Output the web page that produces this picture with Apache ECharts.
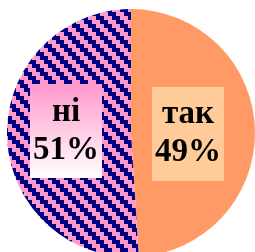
<!DOCTYPE html>
<html>
<head>
<meta charset="utf-8">
<title>так / ні</title>
<script src="https://cdn.jsdelivr.net/npm/echarts@6/dist/echarts.min.js"></script>
<style>
  html, body { margin: 0; padding: 0; background: #fff; }
  #main { width: 255px; height: 252px; }
</style>
</head>
<body>
<div id="main"></div>
<script type="text/javascript">
// дані
var categories = ['так', 'ні'];
var values = [49, 51];

// штрихування для "ні" (темно-синій / рожевий)
var STEP = 4;
function makeStripes() {
    var n = STEP * 4;
    var c = document.createElement('canvas');
    c.width = n; c.height = n;
    var ctx = c.getContext('2d');
    for (var y = 0; y < n; y++) {
        for (var x = 0; x < n; x++) {
            var k = ((Math.floor(x / STEP) - Math.floor(y / STEP)) % 4 + 4) % 4;
            ctx.fillStyle = k < 2 ? '#000080' : '#ff99cc';
            ctx.fillRect(x, y, 1, 1);
        }
    }
    return c;
}

// рожевий -> білий фон підпису
function makeFade() {
    var c = document.createElement('canvas');
    c.width = 4; c.height = 100;
    var ctx = c.getContext('2d');
    var g = ctx.createLinearGradient(0, 0, 0, 100);
    g.addColorStop(0, '#ff99cc');
    g.addColorStop(1, '#ffffff');
    ctx.fillStyle = g;
    ctx.fillRect(0, 0, 4, 100);
    return c;
}

var labelBase = {
    show: true,
    position: 'inside',
    color: '#000',
    fontFamily: 'Liberation Serif',
    fontWeight: 'bold',
    fontSize: 33,
    lineHeight: 38,
    width: 64,
    overflow: 'none',
    align: 'center',
    padding: [9, 4, 9, 4],
    formatter: function (p) { return p.name + '\n' + p.value + '%'; }
};

var colors = ['#ff9966', { image: makeStripes(), repeat: 'repeat' }];
var labelBg = ['#ffcc99', { image: makeFade() }];

var myChart = echarts.init(document.getElementById('main'));
myChart.setOption({
    animation: false,
    series: [{
        type: 'pie',
        center: [131, 133],
        radius: 124,
        startAngle: 90,
        clockwise: true,
        silent: true,
        labelLine: { show: false },
        labelLayout: function (p) {
            return p.dataIndex === 0 ? { dx: -8, dy: 3 } : { dx: 0, dy: -4 };
        },
        data: categories.map(function (name, i) {
            return {
                name: name,
                value: values[i],
                itemStyle: { color: colors[i], borderWidth: 0 },
                label: Object.assign({}, labelBase, { backgroundColor: labelBg[i] })
            };
        })
    }]
});
</script>
</body>
</html>
